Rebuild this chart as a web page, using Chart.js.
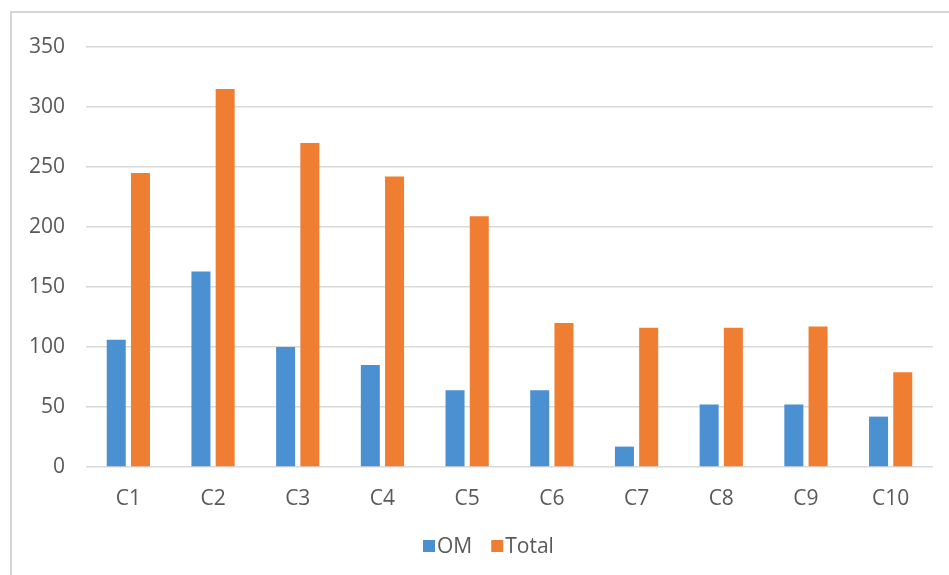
<!DOCTYPE html>
<html>
<head>
<meta charset="utf-8">
<script src="https://cdn.jsdelivr.net/npm/chart.js@4/dist/chart.umd.min.js"></script>
<style>
  html, body { margin: 0; padding: 0; background: #ffffff; overflow: hidden; }
  #frame {
    position: absolute; left: 10px; top: 11px; width: 980px; height: 620px;
    border: 2.5px solid #d6d6d6; box-sizing: border-box;
  }
  #wrap { position: absolute; left: 0; top: 0; width: 949px; height: 575px; }
</style>
</head>
<body>
<div id="frame"></div>
<div id="wrap"><canvas id="chart" width="949" height="575"></canvas></div>
<script>
// Categories and series
const categories = ['C1', 'C2', 'C3', 'C4', 'C5', 'C6', 'C7', 'C8', 'C9', 'C10'];
const omValues = [106, 163, 100, 85, 64, 64, 17, 52, 52, 42];
const totalValues = [245, 315, 270, 242, 209, 120, 116, 116, 117, 79];
const yTicks = [0, 50, 100, 150, 200, 250, 300, 350];

const FONT = "'Open Sans', 'Noto Sans', 'DejaVu Sans', sans-serif";
const TEXT = '#595959';

// Legend drawn as a compact row: small square swatch right next to its label
const compactLegend = {
  id: 'compactLegend',
  afterDraw(chart, args, opts) {
    const ctx = chart.ctx;
    ctx.save();
    ctx.font = opts.fontSize + 'px ' + FONT;
    ctx.textBaseline = 'middle';
    ctx.textAlign = 'left';
    let x = opts.x;
    chart.data.datasets.forEach(ds => {
      ctx.fillStyle = ds.backgroundColor;
      ctx.fillRect(x, opts.y - opts.box / 2, opts.box, opts.box);
      x += opts.box + opts.gap;
      ctx.fillStyle = TEXT;
      ctx.fillText(ds.label, x, opts.y + 1);
      x += ctx.measureText(ds.label).width + opts.spacing;
    });
    ctx.restore();
  }
};

new Chart(document.getElementById('chart'), {
  type: 'bar',
  data: {
    labels: categories,
    datasets: [
      { label: 'OM', data: omValues, backgroundColor: '#4b91d2' },
      { label: 'Total', data: totalValues, backgroundColor: '#ef7e33' }
    ]
  },
  options: {
    responsive: false,
    animation: false,
    devicePixelRatio: 1,
    layout: { padding: { left: 0, right: 16, top: 47, bottom: 0 } },
    datasets: {
      bar: { categoryPercentage: 0.572, barPercentage: 0.785, borderWidth: 0 }
    },
    plugins: {
      legend: { display: false },
      tooltip: { enabled: false },
      compactLegend: { x: 423, y: 546, box: 12, gap: 2, spacing: 19, fontSize: 21 }
    },
    scales: {
      x: {
        grid: { display: false, drawTicks: false },
        border: { display: false },
        ticks: { color: TEXT, font: { family: FONT, size: 21 }, padding: 19, maxRotation: 0 },
        afterFit(scale) { scale.height = 108; }
      },
      y: {
        min: 0,
        max: 350,
        afterBuildTicks(scale) { scale.ticks = yTicks.map(v => ({ value: v })); },
        grid: { color: '#d9d9d9', lineWidth: 1.5, drawTicks: false },
        border: { display: false },
        ticks: { color: TEXT, font: { family: FONT, size: 21 }, padding: 21 },
        afterFit(scale) { scale.width = 86; }
      }
    }
  },
  plugins: [compactLegend]
});
</script>
</body>
</html>
